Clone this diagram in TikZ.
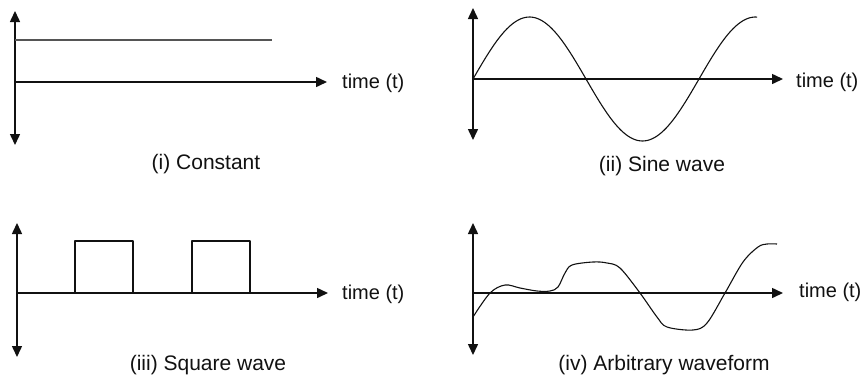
\documentclass[tikz,border=0pt]{standalone}
\usepackage{fontspec}
\setmainfont{Liberation Sans}
\usetikzlibrary{arrows.meta}
\definecolor{wfInk}{HTML}{111111}
\definecolor{wfGray}{HTML}{555555}
\tikzset{
  wf-vaxis/.style={{Triangle[length=11pt,width=10pt]}-{Triangle[length=11pt,width=10pt]},
    line width=1.5pt, draw=wfInk},
  wf-haxis/.style={-{Triangle[length=11pt,width=10pt]},
    line width=1.5pt, draw=wfInk},
  wf-curve/.style={line width=1.1pt, draw=wfInk, line join=round},
  wf-const/.style={line width=1.3pt, draw=wfGray},
  wf-label/.style={font=\fontsize{21}{25}\selectfont, inner sep=0pt, text=wfInk},
  wf-time/.style={wf-label, font=\fontsize{20}{24}\selectfont, anchor=west}
}

\begin{document}
\begin{tikzpicture}[x=1pt, y=-1pt]
\useasboundingbox (0,0) rectangle (860,376);

% (i) constant
\coordinate (o1) at (15,82);
\coordinate (v1t) at (15,11);
\coordinate (v1b) at (15,145);
\coordinate (h1e) at (327,82);
\draw[wf-vaxis] (v1b) -- (v1t);
\draw[wf-haxis] (o1) -- (h1e);
\draw[wf-const] (15,40) -- (272,40);
\node[wf-time] (t1) at (342,83) {time (t)};
\node[wf-label] (c1) at (206,164) {(i) Constant};

% (ii) sine wave
\coordinate (o2) at (473,79);
\coordinate (v2t) at (473,8);
\coordinate (v2b) at (473,140);
\coordinate (h2e) at (783,79);
\draw[wf-vaxis] (v2b) -- (v2t);
\draw[wf-haxis] (o2) -- (h2e);
\draw[wf-curve] plot[domain=0:284, samples=120]
  ({473+\x}, {79-62*sin(\x/113*180)});
\node[wf-time] (t2) at (796,82) {time (t)};
\node[wf-label] (c2) at (662,166) {(ii) Sine wave};

% (iii) square wave
\coordinate (o3) at (17,293);
\coordinate (v3t) at (17,223);
\coordinate (v3b) at (17,357);
\coordinate (h3e) at (328,293);
\draw[wf-vaxis] (v3b) -- (v3t);
\draw[wf-haxis] (o3) -- (h3e);
\draw[wf-curve] (75,293) -- (75,241) -- (133,241) -- (133,293);
\draw[wf-curve] (192,293) -- (192,241) -- (250,241) -- (250,293);
\node[wf-time] (t3) at (342,294) {time (t)};
\node[wf-label] (c3) at (208,365) {(iii) Square wave};

% (iv) arbitrary waveform
\coordinate (o4) at (473,293);
\coordinate (v4t) at (473,223);
\coordinate (v4b) at (473,355);
\coordinate (h4e) at (783,293);
\draw[wf-vaxis] (v4b) -- (v4t);
\draw[wf-haxis] (o4) -- (h4e);
\draw[wf-curve] plot[smooth, tension=0.55] coordinates {
  (473,317) (490,293) (505,285) (520,288) (537,291) (550,291) (558,287)
  (565,273) (572,265) (593,262) (607,263) (620,268) (640,293) (657,317)
  (667,327) (693,330) (707,323) (725,293) (743,262) (758,247) (767,244)
  (777,244)};
\node[wf-time] (t4) at (799,292) {time (t)};
\node[wf-label] (c4) at (664,365) {(iv) Arbitrary waveform};
\end{tikzpicture}
\end{document}
